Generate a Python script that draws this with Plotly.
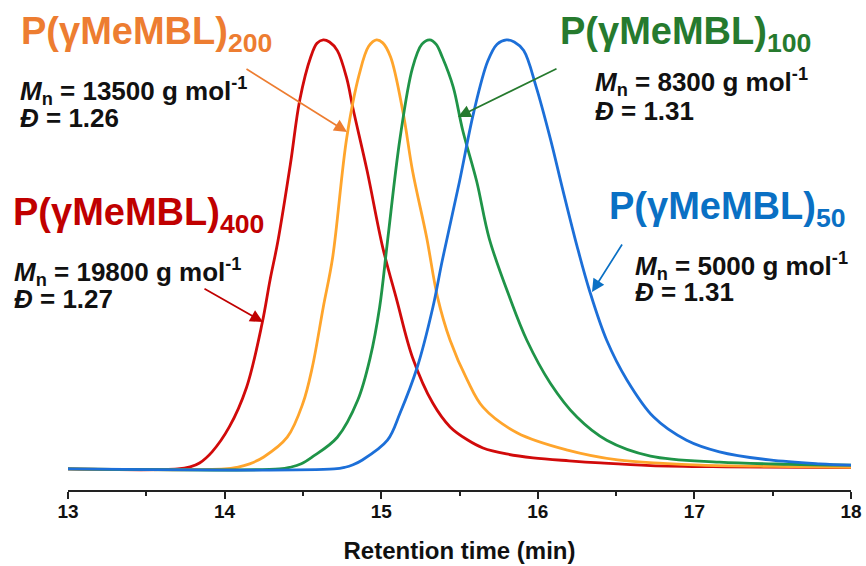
import plotly.graph_objects as go

# ---- data ----
red_x = [13.00, 13.70, 13.78, 13.84, 13.92, 14.03, 14.14, 14.24, 14.29, 14.34, 14.42, 14.48, 14.55, 14.59, 14.63, 14.67, 14.72, 14.78, 14.82, 14.91, 15.01, 15.10, 15.20, 15.33, 15.44, 15.55, 15.65, 15.80, 15.97, 16.20, 16.40, 16.72, 17.20, 18.00]
red_y = [0.000, 0.000, 0.005, 0.014, 0.040, 0.098, 0.190, 0.340, 0.440, 0.530, 0.710, 0.860, 0.960, 0.992, 1.000, 0.995, 0.975, 0.910, 0.840, 0.695, 0.516, 0.393, 0.260, 0.153, 0.098, 0.068, 0.049, 0.035, 0.026, 0.019, 0.014, 0.008, 0.005, 0.003]

orange_x = [13.00, 14.00, 14.08, 14.16, 14.25, 14.40, 14.50, 14.56, 14.63, 14.69, 14.78, 14.86, 14.92, 14.97, 15.01, 15.06, 15.14, 15.20, 15.29, 15.36, 15.44, 15.55, 15.65, 15.87, 16.19, 16.51, 16.80, 17.04, 17.50, 18.00]
orange_y = [0.000, 0.000, 0.004, 0.012, 0.028, 0.074, 0.153, 0.237, 0.377, 0.493, 0.772, 0.920, 0.985, 1.000, 0.993, 0.960, 0.830, 0.695, 0.540, 0.400, 0.300, 0.207, 0.144, 0.084, 0.044, 0.021, 0.013, 0.009, 0.006, 0.004]

green_x = [13.00, 14.35, 14.42, 14.49, 14.56, 14.72, 14.85, 14.93, 14.99, 15.04, 15.12, 15.20, 15.26, 15.31, 15.35, 15.39, 15.46, 15.52, 15.61, 15.69, 15.82, 15.93, 16.08, 16.25, 16.44, 16.72, 17.16, 17.60, 18.00]
green_y = [0.000, 0.000, 0.004, 0.012, 0.028, 0.074, 0.160, 0.260, 0.377, 0.530, 0.770, 0.935, 0.990, 1.000, 0.990, 0.960, 0.890, 0.790, 0.670, 0.537, 0.400, 0.300, 0.200, 0.121, 0.067, 0.030, 0.016, 0.011, 0.009]

blue_x = [13.00, 14.70, 14.77, 14.82, 14.88, 15.04, 15.12, 15.23, 15.33, 15.39, 15.50, 15.59, 15.68, 15.74, 15.80, 15.85, 15.91, 15.99, 16.08, 16.16, 16.25, 16.33, 16.44, 16.57, 16.74, 16.95, 17.16, 17.48, 17.80, 18.00]
blue_y = [0.000, 0.000, 0.004, 0.010, 0.021, 0.067, 0.130, 0.237, 0.377, 0.486, 0.670, 0.830, 0.950, 0.990, 1.000, 0.995, 0.975, 0.890, 0.770, 0.650, 0.520, 0.416, 0.300, 0.207, 0.121, 0.067, 0.040, 0.021, 0.012, 0.009]

x_ticks = [13, 14, 15, 16, 17, 18]
x_title = "Retention time (min)"

labels = ["P(γMeMBL)<sub>400</sub>", "P(γMeMBL)<sub>200</sub>", "P(γMeMBL)<sub>100</sub>", "P(γMeMBL)<sub>50</sub>"]
mn_values = ["19800", "13500", "8300", "5000"]
d_values = ["1.27", "1.26", "1.31", "1.31"]

# ---- styling ----
curve_colors = ["#D10A0A", "#FFA52C", "#1F9448", "#1C6FD8"]
label_colors = ["#C00000", "#ED7D31", "#267A2E", "#0A70C4"]
FONT = "Liberation Sans, Arial, sans-serif"

W, H = 866, 566
PL, PR, PT, PB = 68, 851, 27, 490  # plot area in page pixels
L, R, T, B = PL, W - PR, PT, H - PB

def px(xp):
    return (xp - PL) / (PR - PL)

def py(yp):
    return (PB - yp) / (PB - PT)

fig = go.Figure()
for xs, ys, c in [(red_x, red_y, curve_colors[0]), (orange_x, orange_y, curve_colors[1]),
                  (green_x, green_y, curve_colors[2]), (blue_x, blue_y, curve_colors[3])]:
    fig.add_trace(go.Scatter(x=xs, y=ys, mode="lines",
                             line=dict(color=c, width=2.8, shape="spline", smoothing=1.0),
                             hoverinfo="skip", showlegend=False))

# label layout in page pixels: (title x, title y center, info x, line1 y, line2 y)
pos = [
    (11, 215, 12, 272, 299),   # 400
    (19, 34, 18, 91, 118),     # 200
    (558, 34, 593, 82, 111),   # 100
    (607, 209, 633, 266, 292), # 50
]
anns = []
for i in range(4):
    tx, ty, ix, l1, l2 = pos[i]
    anns.append(dict(x=px(tx), y=py(ty), xref="paper", yref="paper", xanchor="left", yanchor="middle",
                     text=labels[i], showarrow=False,
                     font=dict(family=FONT, size=38, color=label_colors[i], weight="bold")))
    anns.append(dict(x=px(ix), y=py(l1), xref="paper", yref="paper", xanchor="left", yanchor="middle",
                     text="<i>M</i><sub>n</sub> = " + mn_values[i] + " g mol<sup>-1</sup>", showarrow=False,
                     font=dict(family=FONT, size=26, color="#111111", weight="bold")))
    anns.append(dict(x=px(ix), y=py(l2), xref="paper", yref="paper", xanchor="left", yanchor="middle",
                     text="<i>Đ</i> = " + d_values[i], showarrow=False,
                     font=dict(family=FONT, size=26, color="#111111", weight="bold")))

# arrows in page pixels: (head x, head y, tail x, tail y)
arrows = [
    (263, 322, 203, 288),
    (347, 132, 245, 68),
    (458, 117, 558, 68),
    (592, 292, 623, 243),
]
for i, (hx, hy, tx, ty) in enumerate(arrows):
    anns.append(dict(x=px(hx), y=py(hy), xref="paper", yref="paper", ax=tx - hx, ay=ty - hy,
                     axref="pixel", ayref="pixel", text="", showarrow=True,
                     arrowhead=2, arrowsize=1.5, arrowwidth=1.7, arrowcolor=label_colors[i]))

fig.update_layout(
    width=W, height=H,
    margin=dict(l=L, r=R, t=T, b=B, autoexpand=False),
    paper_bgcolor="white", plot_bgcolor="white",
    annotations=anns,
    xaxis=dict(range=[13, 18], tickvals=x_ticks, ticktext=[str(v) for v in x_ticks],
               automargin=False,
               showgrid=False, zeroline=False, showline=True, linecolor="#222222", linewidth=2,
               ticks="outside", ticklen=7, tickwidth=2, tickcolor="#222222", ticklabelstandoff=-4,
               minor=dict(dtick=0.5, ticks="outside", ticklen=4, tickwidth=2, tickcolor="#222222"),
               tickfont=dict(family=FONT, size=19, color="#111111", weight="bold"),
               title=dict(text=x_title, font=dict(family=FONT, size=24, color="#111111", weight="bold"), standoff=21)),
    yaxis=dict(range=[-0.049, 1.03], visible=False, showgrid=False, zeroline=False, automargin=False),
)

fig.write_html("out.html", config={"displayModeBar": False},
               post_script="document.body.style.margin='0px';")
